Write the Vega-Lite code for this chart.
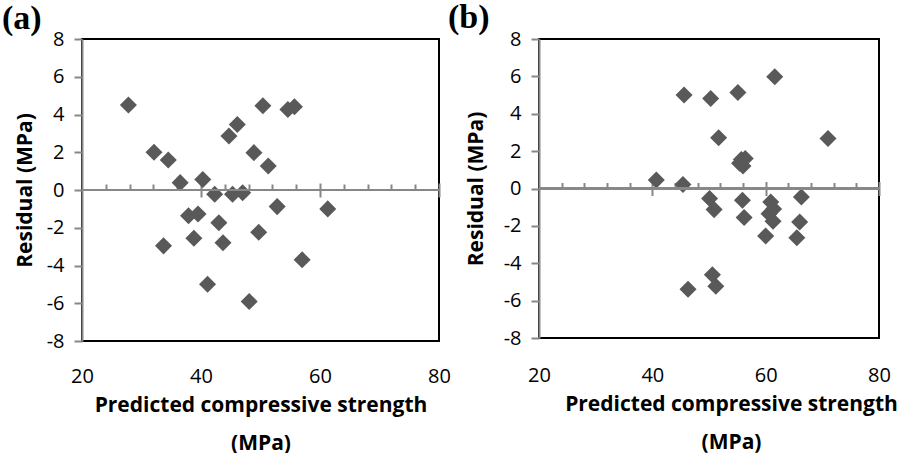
{
  "$schema": "https://vega.github.io/schema/vega-lite/v6.json",
  "padding": {"left": 1, "top": 0, "right": 0, "bottom": 0},
  "bounds": "flush",
  "spacing": 100,
  "background": "white",
  "config": {
    "view": {"stroke": "black", "strokeWidth": 2},
    "font": "Open Sans",
    "axis": {"grid": false},
    "axisY": {"domain": true, "domainColor": "#878787", "domainWidth": 2, "ticks": true, "tickSize": 8, "tickWidth": 2, "tickColor": "#878787", "labelFontSize": 20, "labelColor": "black", "labelPadding": 10, "labelFlush": false, "labelOverlap": false, "titleFontSize": 21, "titleFontWeight": "bold", "titleColor": "black"}
  },
  "datasets": {
    "a": [
      {"predicted": 27.8, "residual": 4.5},
      {"predicted": 32.1, "residual": 2.0},
      {"predicted": 34.5, "residual": 1.59},
      {"predicted": 36.5, "residual": 0.39},
      {"predicted": 40.3, "residual": 0.56},
      {"predicted": 42.3, "residual": -0.23},
      {"predicted": 45.3, "residual": -0.23},
      {"predicted": 47.0, "residual": -0.14},
      {"predicted": 44.7, "residual": 2.86},
      {"predicted": 46.1, "residual": 3.47},
      {"predicted": 50.4, "residual": 4.46},
      {"predicted": 54.6, "residual": 4.27},
      {"predicted": 55.7, "residual": 4.41},
      {"predicted": 48.9, "residual": 1.98},
      {"predicted": 51.3, "residual": 1.27},
      {"predicted": 52.8, "residual": -0.88},
      {"predicted": 61.3, "residual": -1.0},
      {"predicted": 37.9, "residual": -1.36},
      {"predicted": 39.5, "residual": -1.27},
      {"predicted": 43.0, "residual": -1.73},
      {"predicted": 38.8, "residual": -2.56},
      {"predicted": 43.7, "residual": -2.79},
      {"predicted": 49.7, "residual": -2.24},
      {"predicted": 33.7, "residual": -2.96},
      {"predicted": 57.0, "residual": -3.7},
      {"predicted": 41.1, "residual": -4.99},
      {"predicted": 48.1, "residual": -5.91}
    ],
    "b": [
      {"predicted": 40.7, "residual": 0.45},
      {"predicted": 45.4, "residual": 0.21},
      {"predicted": 45.6, "residual": 5.0},
      {"predicted": 50.3, "residual": 4.82},
      {"predicted": 55.1, "residual": 5.14},
      {"predicted": 61.6, "residual": 5.98},
      {"predicted": 51.7, "residual": 2.71},
      {"predicted": 71.0, "residual": 2.68},
      {"predicted": 55.4, "residual": 1.35},
      {"predicted": 56.4, "residual": 1.6},
      {"predicted": 56.0, "residual": 1.2},
      {"predicted": 55.7, "residual": 1.55},
      {"predicted": 50.1, "residual": -0.54},
      {"predicted": 50.9, "residual": -1.13},
      {"predicted": 55.9, "residual": -0.63},
      {"predicted": 56.2, "residual": -1.55},
      {"predicted": 60.9, "residual": -0.72},
      {"predicted": 61.4, "residual": -1.1},
      {"predicted": 60.6, "residual": -1.35},
      {"predicted": 61.3, "residual": -1.75},
      {"predicted": 66.3, "residual": -0.45},
      {"predicted": 66.0, "residual": -1.79},
      {"predicted": 60.0, "residual": -2.54},
      {"predicted": 65.5, "residual": -2.64},
      {"predicted": 50.6, "residual": -4.61},
      {"predicted": 51.2, "residual": -5.23},
      {"predicted": 46.3, "residual": -5.39}
    ]
  },
  "hconcat": [
    {
      "width": 357,
      "height": 302,
      "title": {"text": "(a)", "anchor": "start", "frame": "group", "font": "Liberation Serif", "fontSize": 34, "fontWeight": "bold", "color": "black", "dx": -80, "offset": -34, "baseline": "alphabetic"},
      "data": {"name": "a"},
      "resolve": {"axis": {"x": "independent"}},
      "layer": [
        {
          "mark": {"type": "point", "shape": "diamond", "filled": true, "size": 290, "color": "#595959", "opacity": 1},
          "encoding": {
            "x": {"field": "predicted", "type": "quantitative", "scale": {"domain": [20, 80], "nice": false, "zero": false},
              "axis": {"orient": "bottom", "domain": false, "ticks": false, "values": [20, 40, 60, 80], "labelFontSize": 20, "labelColor": "black", "labelPadding": 25, "labelFlush": false, "labelOverlap": false,
                "title": ["Predicted compressive strength", "(MPa)"], "titleFontSize": 21, "titleFontWeight": "bold", "titleColor": "black", "titleLineHeight": 38, "titlePadding": 8}},
            "y": {"field": "residual", "type": "quantitative", "scale": {"domain": [-8, 8], "nice": false},
              "axis": {"orient": "left", "values": [-8, -6, -4, -2, 0, 2, 4, 6, 8], "labelExpr": "datum.value < 0 ? '-' + abs(datum.value) : '' + datum.value", "title": "Residual (MPa)", "titlePadding": 11}}
          }
        },
        {
          "mark": {"type": "rule", "color": "#878787", "strokeWidth": 2},
          "encoding": {
            "x": {"datum": 20, "type": "quantitative",
              "axis": {"orient": "bottom", "offset": -151, "domain": false, "labels": false, "title": null, "ticks": true, "tickSize": -6, "tickWidth": 2, "tickColor": "#878787", "values": [24, 28, 32, 36, 44, 48, 52, 56, 64, 68, 72, 76]}},
            "x2": {"datum": 80},
            "y": {"datum": 0, "type": "quantitative",
              "axis": {"orient": "left", "values": [-8, -6, -4, -2, 0, 2, 4, 6, 8], "labelExpr": "datum.value < 0 ? '-' + abs(datum.value) : '' + datum.value", "title": "Residual (MPa)", "titlePadding": 11}}
          }
        },
        {
          "mark": {"type": "rule", "color": "#878787", "strokeWidth": 2},
          "encoding": {
            "x": {"datum": 20, "type": "quantitative",
              "axis": {"orient": "bottom", "offset": -158, "domain": false, "labels": false, "title": null, "ticks": true, "tickSize": 14, "tickWidth": 2, "tickColor": "#878787", "values": [40, 60, 80]}},
            "x2": {"datum": 80},
            "y": {"datum": 0, "type": "quantitative",
              "axis": {"orient": "left", "values": [-8, -6, -4, -2, 0, 2, 4, 6, 8], "labelExpr": "datum.value < 0 ? '-' + abs(datum.value) : '' + datum.value", "title": "Residual (MPa)", "titlePadding": 11}}
          }
        }
      ]
    },
    {
      "width": 340,
      "height": 299,
      "title": {"text": "(b)", "anchor": "start", "frame": "group", "font": "Liberation Serif", "fontSize": 34, "fontWeight": "bold", "color": "black", "dx": -91, "offset": -33, "baseline": "alphabetic"},
      "data": {"name": "b"},
      "resolve": {"axis": {"x": "independent"}},
      "layer": [
        {
          "mark": {"type": "point", "shape": "diamond", "filled": true, "size": 290, "color": "#595959", "opacity": 1},
          "encoding": {
            "x": {"field": "predicted", "type": "quantitative", "scale": {"domain": [20, 80], "nice": false, "zero": false},
              "axis": {"orient": "bottom", "domain": false, "ticks": false, "values": [20, 40, 60, 80], "labelFontSize": 20, "labelColor": "black", "labelPadding": 27, "labelFlush": false, "labelOverlap": false,
                "title": ["Predicted compressive strength", "(MPa)"], "titleFontSize": 21, "titleFontWeight": "bold", "titleColor": "black", "titleLineHeight": 38, "titlePadding": 8, "titleX": 192}},
            "y": {"field": "residual", "type": "quantitative", "scale": {"domain": [-8, 8], "nice": false},
              "axis": {"orient": "left", "values": [-8, -6, -4, -2, 0, 2, 4, 6, 8], "labelExpr": "datum.value < 0 ? '-' + abs(datum.value) : '' + datum.value", "title": "Residual (MPa)", "titlePadding": 17}}
          }
        },
        {
          "mark": {"type": "rule", "color": "#878787", "strokeWidth": 2},
          "encoding": {
            "x": {"datum": 20, "type": "quantitative",
              "axis": {"orient": "bottom", "offset": -149.5, "domain": false, "labels": false, "title": null, "ticks": true, "tickSize": -6, "tickWidth": 2, "tickColor": "#878787", "values": [24, 28, 32, 36, 44, 48, 52, 56, 64, 68, 72, 76]}},
            "x2": {"datum": 80},
            "y": {"datum": 0, "type": "quantitative",
              "axis": {"orient": "left", "values": [-8, -6, -4, -2, 0, 2, 4, 6, 8], "labelExpr": "datum.value < 0 ? '-' + abs(datum.value) : '' + datum.value", "title": "Residual (MPa)", "titlePadding": 17}}
          }
        },
        {
          "mark": {"type": "rule", "color": "#878787", "strokeWidth": 2},
          "encoding": {
            "x": {"datum": 20, "type": "quantitative",
              "axis": {"orient": "bottom", "offset": -156.5, "domain": false, "labels": false, "title": null, "ticks": true, "tickSize": 14, "tickWidth": 2, "tickColor": "#878787", "values": [40, 60, 80]}},
            "x2": {"datum": 80},
            "y": {"datum": 0, "type": "quantitative",
              "axis": {"orient": "left", "values": [-8, -6, -4, -2, 0, 2, 4, 6, 8], "labelExpr": "datum.value < 0 ? '-' + abs(datum.value) : '' + datum.value", "title": "Residual (MPa)", "titlePadding": 17}}
          }
        }
      ]
    }
  ]
}
